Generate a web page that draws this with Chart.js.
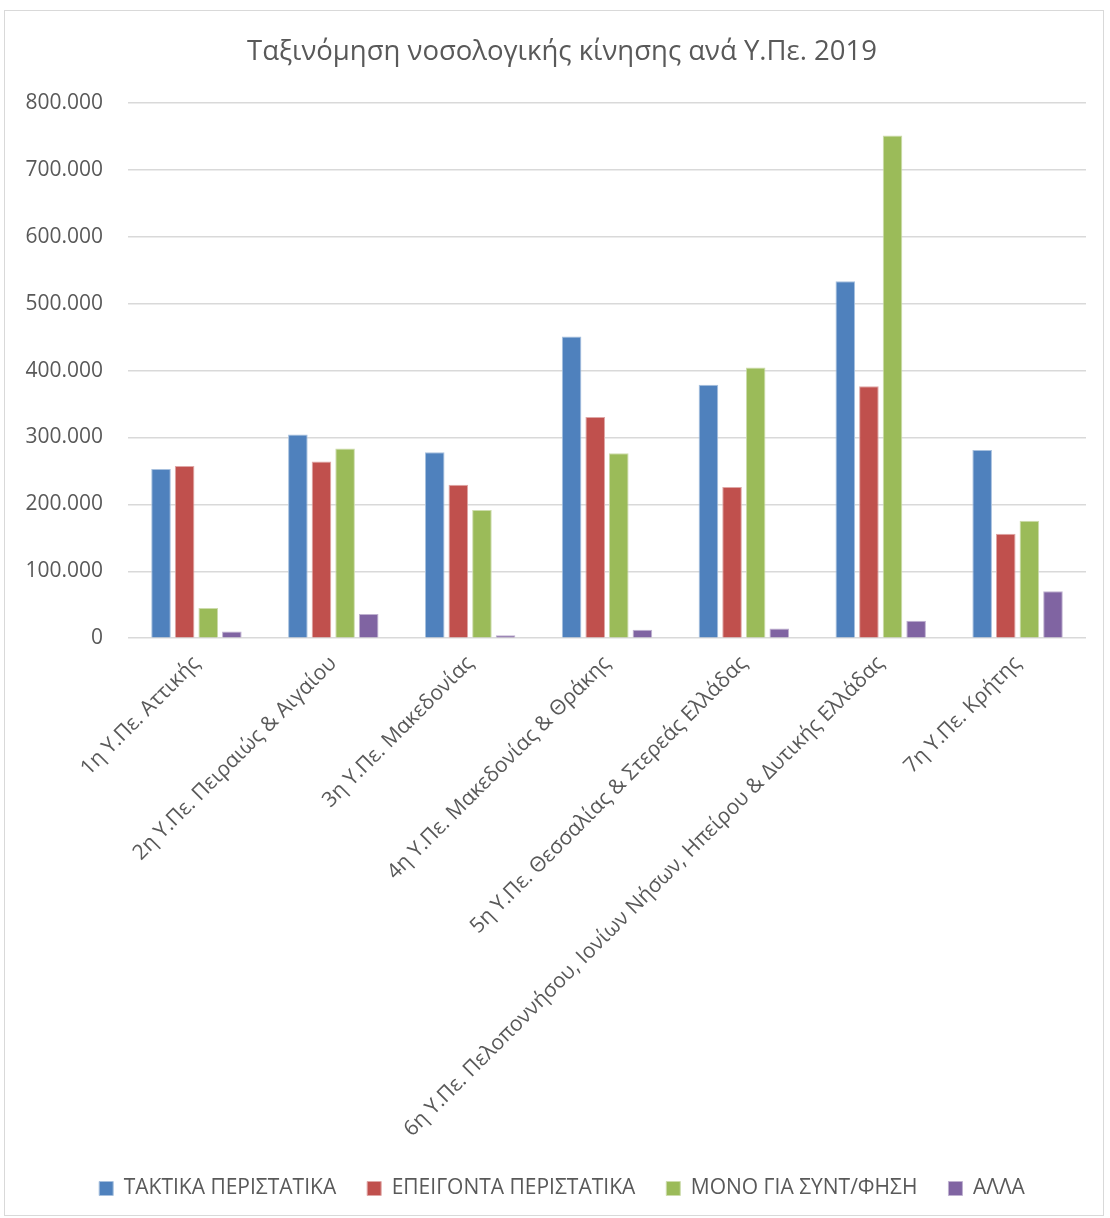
<!DOCTYPE html>
<html>
<head>
<meta charset="utf-8">
<script src="https://cdn.jsdelivr.net/npm/chart.js@4"></script>
<style>
  body { margin: 0; background: #fff; }
  #box { position: absolute; left: 4px; top: 10px; width: 1100px; height: 1206px; border: 1px solid #d9d9d9; box-sizing: border-box; }
</style>
</head>
<body>
<div id="box"><canvas id="chart"></canvas></div>
<script>
const categories = [
  "1η Υ.Πε. Αττικής",
  "2η Υ.Πε. Πειραιώς & Αιγαίου",
  "3η Υ.Πε. Μακεδονίας",
  "4η Υ.Πε. Μακεδονίας & Θράκης",
  "5η Υ.Πε. Θεσσαλίας & Στερεάς Ελλάδας",
  "6η Υ.Πε. Πελοποννήσου, Ιονίων Νήσων, Ηπείρου & Δυτικής Ελλάδας",
  "7η Υ.Πε. Κρήτης"
];
const seriesNames = ["ΤΑΚΤΙΚΑ ΠΕΡΙΣΤΑΤΙΚΑ", "ΕΠΕΙΓΟΝΤΑ ΠΕΡΙΣΤΑΤΙΚΑ", "ΜΟΝΟ ΓΙΑ ΣΥΝΤ/ΦΗΣΗ", "ΑΛΛΑ"];
const taktika = [253000, 304500, 278000, 451000, 379000, 533500, 281500];
const epeigonta = [257500, 264000, 229500, 330500, 226000, 376500, 156000];
const monoSynt = [45000, 283500, 191500, 276500, 404500, 751500, 175500];
const alla = [10000, 36000, 4500, 12500, 14500, 26000, 70000];
const colors = ["#4F81BD", "#C0504D", "#9BBB59", "#8064A2"];
const borders = ["#a7c0de", "#dfa7a6", "#cddcac", "#bfb1d0"];

const fmt = v => v === 0 ? "0" : v.toLocaleString("de-DE");

const values = [taktika, epeigonta, monoSynt, alla];
const font = "'Open Sans', 'Noto Sans', sans-serif";

// y labels stick out past the narrow axis box, so widen its clip area
const unclipY = {
  id: "unclipY",
  afterLayout(chart) { chart.scales.y.left = 0; }
};

new Chart(document.getElementById("chart"), {
  type: "bar",
  data: {
    labels: categories,
    datasets: values.map((d, i) => ({
      label: seriesNames[i],
      data: d,
      backgroundColor: colors[i],
      borderColor: borders[i],
      borderWidth: 1,
      categoryPercentage: 0.69,
      barPercentage: 0.83
    }))
  },
  plugins: [unclipY],
  options: {
    responsive: true,
    maintainAspectRatio: false,
    animation: false,
    layout: { padding: { left: 33, right: 17, top: 10, bottom: 6 } },
    plugins: {
      title: {
        display: true,
        text: "Ταξινόμηση νοσολογικής κίνησης ανά Υ.Πε. 2019",
        color: "#595959",
        font: { family: font, size: 27.5, weight: "normal" },
        padding: { top: 15, bottom: 34 }
      },
      legend: {
        position: "bottom",
        labels: {
          color: "#595959",
          font: { family: font, size: 21 },
          boxWidth: 14,
          boxHeight: 14,
          padding: 31
        }
      },
      tooltip: { enabled: false }
    },
    scales: {
      x: {
        grid: { display: false },
        border: { display: false },
        afterFit: s => { s.paddingLeft = 0; s.paddingRight = 0; },
        ticks: {
          color: "#595959",
          font: { family: font, size: 21 },
          minRotation: 45,
          maxRotation: 45,
          autoSkip: false,
          padding: 5
        }
      },
      y: {
        min: 0,
        max: 800000,
        grid: { color: "#d9d9d9", lineWidth: 1.5, drawTicks: false },
        border: { display: false },
        afterFit: s => { s.width = 90; },
        ticks: {
          stepSize: 100000,
          color: "#595959",
          font: { family: font, size: 21 },
          padding: 25,
          callback: v => fmt(v)
        }
      }
    }
  }
});
</script>
</body>
</html>
